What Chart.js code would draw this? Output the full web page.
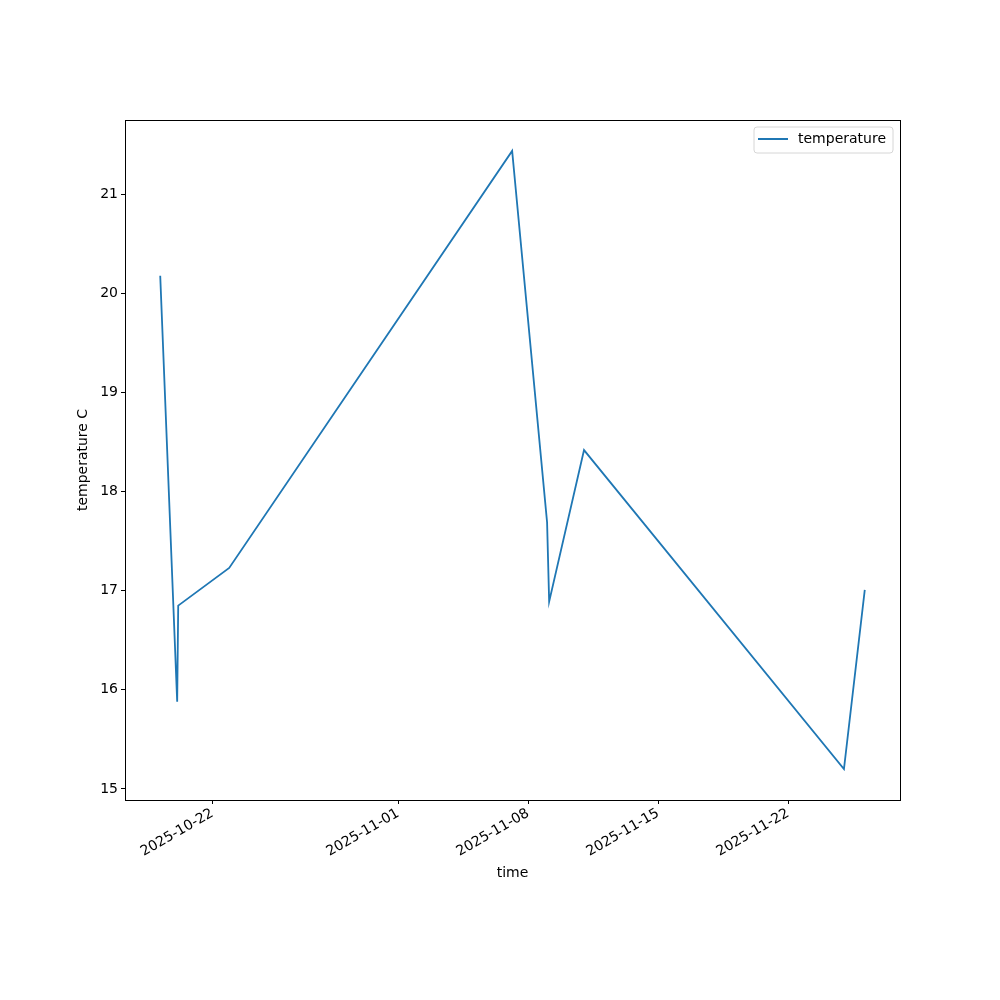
<!DOCTYPE html>
<html>
<head>
<meta charset="utf-8">
<script src="https://cdn.jsdelivr.net/npm/chart.js@4/dist/chart.umd.min.js"></script>
<style>
  html, body { margin: 0; padding: 0; background: #fff; }
  #wrap { width: 1000px; height: 1000px; }
</style>
</head>
<body>
<div id="wrap"><canvas id="c" width="1000" height="1000"></canvas></div>
<script>
// ---- data ----
const times = [
  "2025-10-19T04:25:00Z",
  "2025-10-20T02:20:00Z",
  "2025-10-20T03:40:00Z",
  "2025-10-22T21:35:00Z",
  "2025-11-07T03:20:00Z",
  "2025-11-09T00:30:00Z",
  "2025-11-09T03:10:00Z",
  "2025-11-11T00:15:00Z",
  "2025-11-25T00:15:00Z",
  "2025-11-26T03:10:00Z"
];
const temperature = [20.18, 15.88, 16.85, 17.23, 21.44, 17.69, 16.89, 18.42, 15.20, 17.01];
const xTickDates = ["2025-10-22", "2025-11-01", "2025-11-08", "2025-11-15", "2025-11-22"];
const yTickValues = [15, 16, 17, 18, 19, 20, 21];
const seriesLabel = "temperature";
const xTitle = "time";
const yTitle = "temperature C";

// ---- build ----
const xs = times.map(t => Date.parse(t));
const points = xs.map((x, i) => ({ x: x, y: temperature[i] }));
const xMinD = Math.min(...xs), xMaxD = Math.max(...xs);
const xPad = (xMaxD - xMinD) * 0.05;
const yMinD = Math.min(...temperature), yMaxD = Math.max(...temperature);
const yPad = (yMaxD - yMinD) * 0.05;

const FONT = "'DejaVu Sans', sans-serif";
const FS = 14;
const LINE_COLOR = '#1f77b4';

const framePlugin = {
  id: 'frame',
  afterDatasetsDraw(chart) {
    const { ctx, chartArea: a } = chart;
    ctx.save();
    ctx.strokeStyle = '#000';
    ctx.lineWidth = 1;
    ctx.strokeRect(Math.round(a.left) + 0.5, Math.round(a.top) + 0.5,
                   Math.round(a.right - a.left), Math.round(a.bottom - a.top));
    ctx.restore();
  }
};

const legendPlugin = {
  id: 'mplLegend',
  afterDraw(chart) {
    const { ctx, chartArea: a } = chart;
    const label = chart.data.datasets[0].label;
    ctx.save();
    ctx.font = FS + "px " + FONT;
    const tw = ctx.measureText(label).width;
    const boxW = 44 + tw + 7;
    const boxH = 26;
    const right = a.right - 7;
    const left = right - boxW;
    const top = a.top + 7;
    const r = 3;
    ctx.beginPath();
    ctx.moveTo(left + r, top);
    ctx.lineTo(left + boxW - r, top);
    ctx.quadraticCurveTo(left + boxW, top, left + boxW, top + r);
    ctx.lineTo(left + boxW, top + boxH - r);
    ctx.quadraticCurveTo(left + boxW, top + boxH, left + boxW - r, top + boxH);
    ctx.lineTo(left + r, top + boxH);
    ctx.quadraticCurveTo(left, top + boxH, left, top + boxH - r);
    ctx.lineTo(left, top + r);
    ctx.quadraticCurveTo(left, top, left + r, top);
    ctx.closePath();
    ctx.fillStyle = 'rgba(255,255,255,0.8)';
    ctx.fill();
    ctx.strokeStyle = '#d6d6d6';
    ctx.lineWidth = 1;
    ctx.stroke();
    const cy = top + 12;
    ctx.beginPath();
    ctx.moveTo(left + 4, cy);
    ctx.lineTo(left + 34, cy);
    ctx.strokeStyle = LINE_COLOR;
    ctx.lineWidth = 2;
    ctx.stroke();
    ctx.fillStyle = '#000';
    ctx.textBaseline = 'middle';
    ctx.textAlign = 'left';
    ctx.fillText(label, left + 44, cy);
    ctx.restore();
  }
};

new Chart(document.getElementById('c'), {
  type: 'line',
  data: {
    datasets: [{
      label: seriesLabel,
      data: points,
      borderColor: LINE_COLOR,
      backgroundColor: LINE_COLOR,
      borderWidth: 1.8,
      pointRadius: 0,
      tension: 0,
      fill: false
    }]
  },
  options: {
    responsive: false,
    animation: false,
    devicePixelRatio: 1,
    layout: { padding: { top: 120, right: 100, left: 0, bottom: 0 } },
    plugins: {
      legend: { display: false },
      tooltip: { enabled: false }
    },
    scales: {
      x: {
        type: 'linear',
        min: xMinD - xPad,
        max: xMaxD + xPad,
        afterBuildTicks(scale) {
          scale.ticks = xTickDates.map(d => ({ value: Date.parse(d + "T00:00:00Z") }));
        },
        afterFit(scale) { scale.height = 200; },
        grid: { display: true, drawOnChartArea: false, tickLength: 4, color: '#000', tickWidth: 1 },
        border: { display: true, color: '#000', width: 1 },
        ticks: {
          color: '#000',
          font: { family: FONT, size: FS },
          minRotation: 30,
          maxRotation: 30,
          autoSkip: false,
          padding: 1,
          callback: (v) => new Date(v).toISOString().slice(0, 10)
        },
        title: {
          display: true,
          text: xTitle,
          color: '#000',
          font: { family: FONT, size: FS },
          padding: { top: 0, bottom: 118 }
        }
      },
      y: {
        type: 'linear',
        min: yMinD - yPad,
        max: yMaxD + yPad,
        afterBuildTicks(scale) {
          scale.ticks = yTickValues.map(v => ({ value: v }));
        },
        afterFit(scale) { scale.width = 125; },
        grid: { display: true, drawOnChartArea: false, tickLength: 4, color: '#000', tickWidth: 1 },
        border: { display: true, color: '#000', width: 1 },
        ticks: {
          color: '#000',
          font: { family: FONT, size: FS },
          padding: 3,
          callback: (v) => String(v)
        },
        title: {
          display: true,
          text: yTitle,
          color: '#000',
          font: { family: FONT, size: FS },
          padding: { top: 75, bottom: 0 }
        }
      }
    }
  },
  plugins: [framePlugin, legendPlugin]
});
</script>
</body>
</html>
